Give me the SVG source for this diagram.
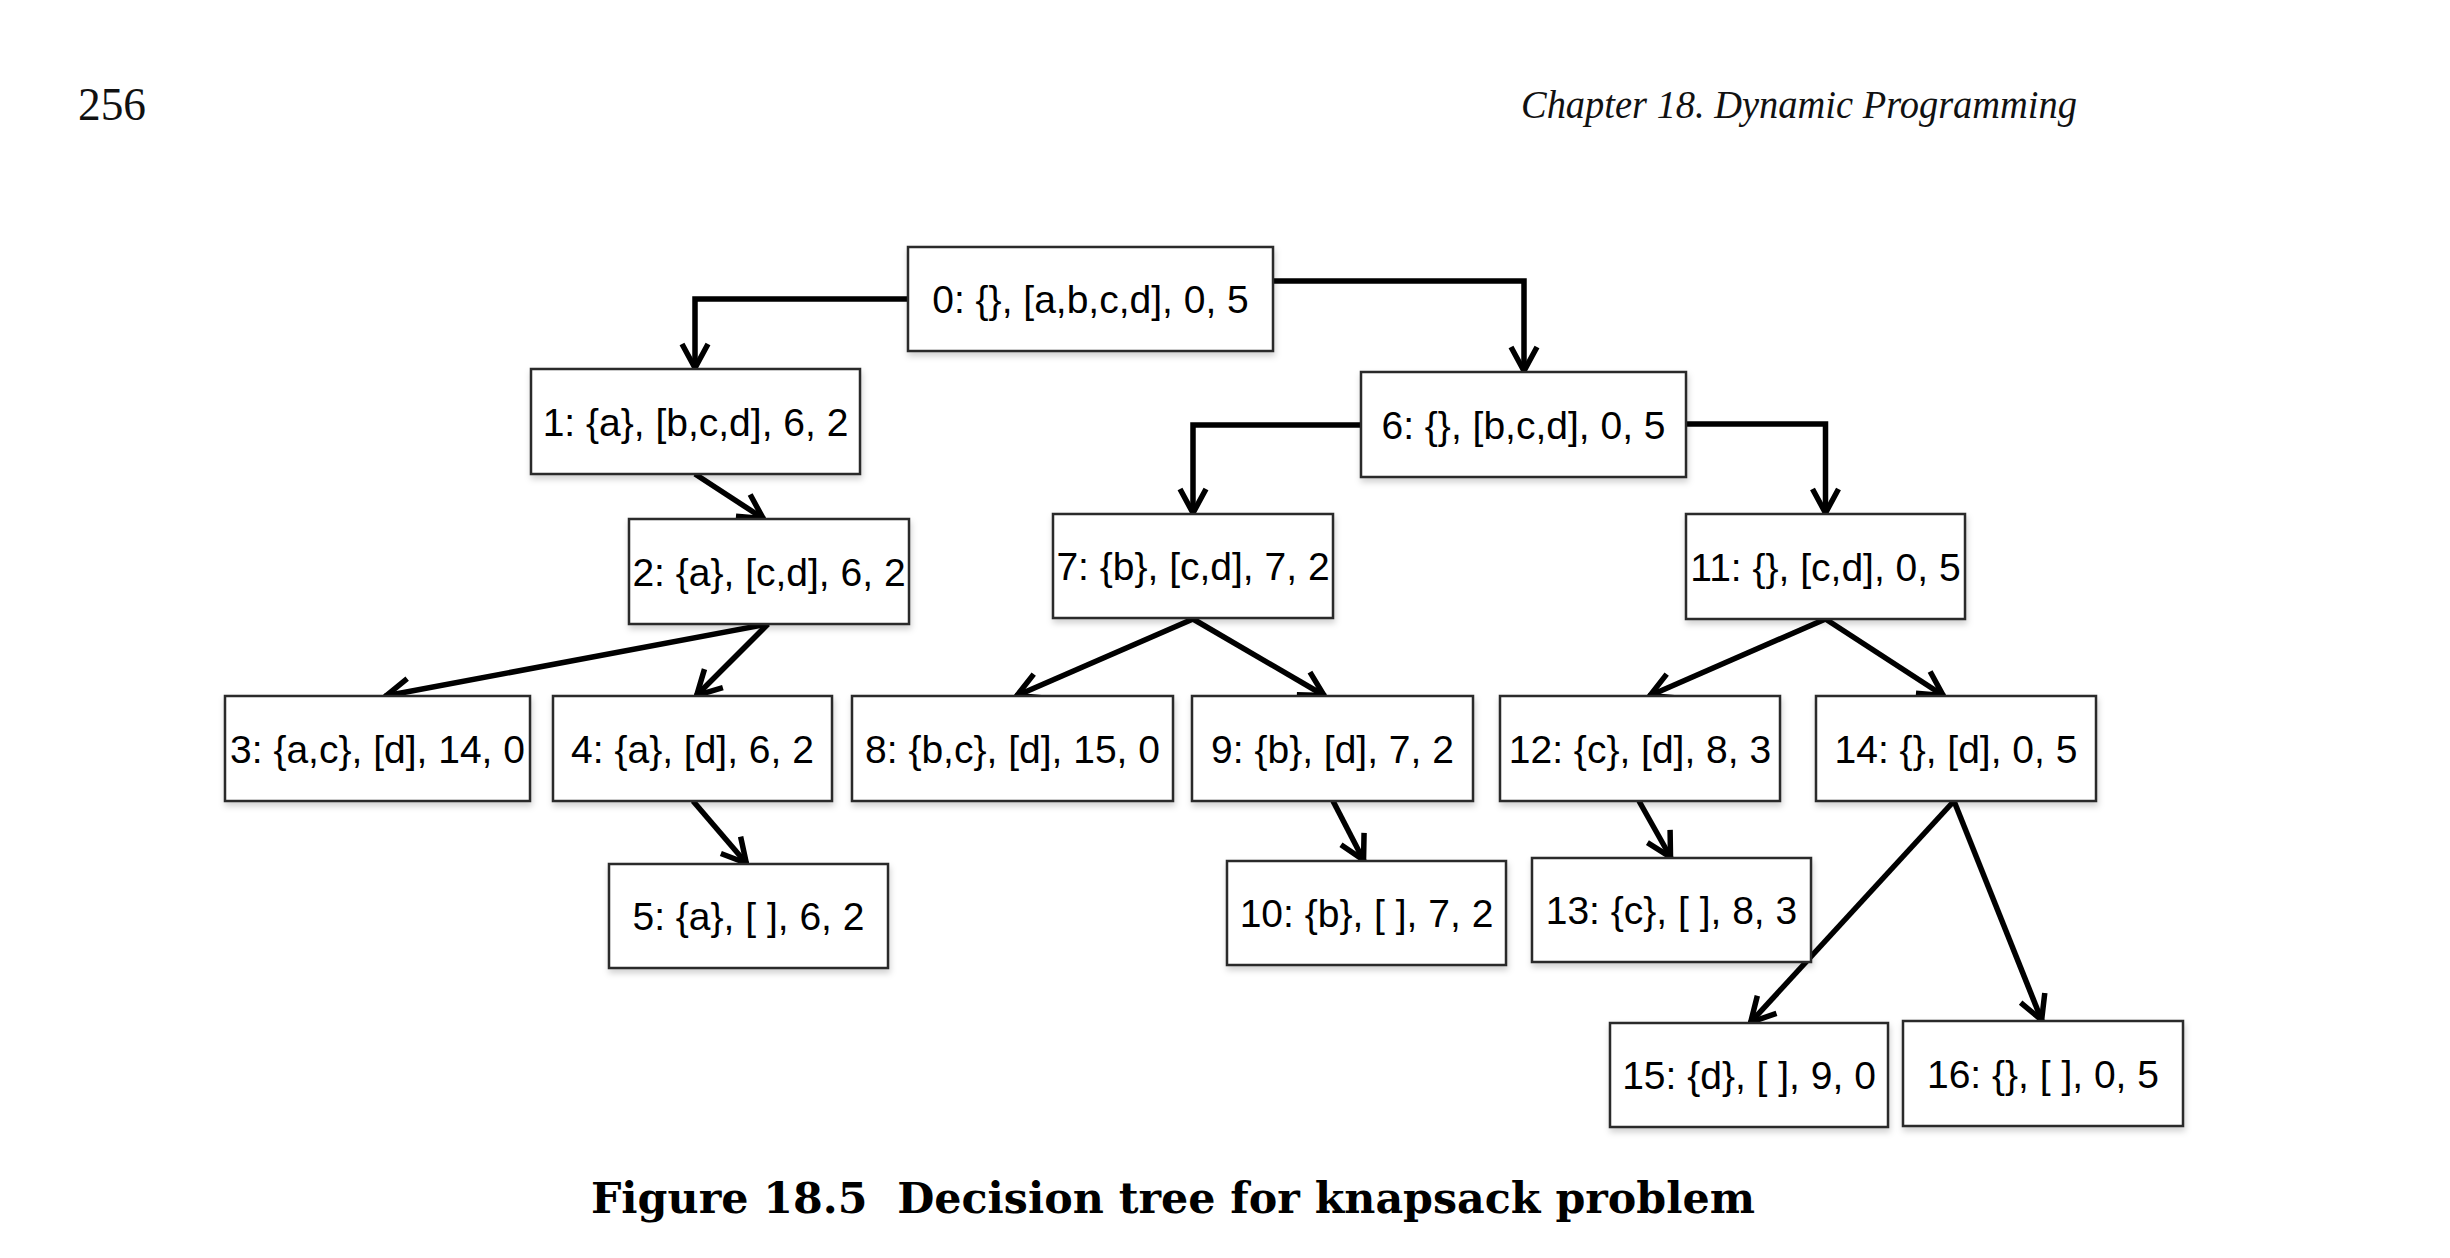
<svg xmlns="http://www.w3.org/2000/svg" width="2450" height="1258" viewBox="0 0 2450 1258">
<style>
.box{fill:#fff;stroke:#2a2a2a;stroke-width:2.5;filter:url(#sh)}
.lbl{font-family:"Liberation Sans",Arial,Helvetica,sans-serif;font-size:39px;fill:#000;text-anchor:middle}
.edge{fill:none;stroke:#000;stroke-width:5.5;stroke-linejoin:miter;marker-end:url(#arr)}
.hdr{font-family:"Liberation Serif","Times New Roman",serif;fill:#111}
.cap{font-family:"DejaVu Serif",serif;font-weight:bold;font-size:43px;fill:#000;white-space:pre}
</style>
<defs>
<filter id="sh" x="-10%" y="-10%" width="120%" height="130%">
<feDropShadow dx="1" dy="4" stdDeviation="3" flood-color="#000" flood-opacity="0.18"/>
</filter>
<marker id="arr" markerUnits="userSpaceOnUse" markerWidth="44" markerHeight="44" viewBox="-32 -22 44 44" refX="0" refY="0" orient="auto">
<path d="M-25,-13 L-1,0 L-25,13" fill="none" stroke="#000" stroke-width="5.5" stroke-linejoin="miter"/>
</marker>
</defs>
<rect width="2450" height="1258" fill="#fff"/>
<text class="hdr" x="78" y="120" font-size="47" textLength="68" lengthAdjust="spacingAndGlyphs">256</text>
<text class="hdr" x="1521" y="118" font-size="40" font-style="italic" textLength="556" lengthAdjust="spacingAndGlyphs">Chapter 18. Dynamic Programming</text>
<g id="connectors">
<polyline class="edge" points="908,299 695,299 695,369"/>
<polyline class="edge" points="1273,281 1524,281 1524,372"/>
<polyline class="edge" points="1361,425 1193,425 1193,514"/>
<polyline class="edge" points="1686,424 1825.5,424 1825.5,514"/>
<line class="edge" x1="695" y1="474" x2="764" y2="519"/>
<line class="edge" x1="768" y1="624" x2="385" y2="696"/>
<line class="edge" x1="768" y1="624" x2="696" y2="696"/>
<line class="edge" x1="1193" y1="619" x2="1016" y2="696"/>
<line class="edge" x1="1193" y1="619" x2="1325" y2="696"/>
<line class="edge" x1="1825.5" y1="619" x2="1649" y2="696"/>
<line class="edge" x1="1825.5" y1="619" x2="1944" y2="696"/>
<line class="edge" x1="693" y1="801" x2="747" y2="864"/>
<line class="edge" x1="1333" y1="801" x2="1364" y2="861"/>
<line class="edge" x1="1639" y1="801" x2="1671" y2="858"/>
<line class="edge" x1="1954" y1="801" x2="1750" y2="1023"/>
<line class="edge" x1="1954" y1="801" x2="2042" y2="1021"/>
</g>
<g id="n0"><rect class="box" x="908" y="247" width="365" height="104"/><text class="lbl" x="1090.5" y="313">0: {}, [a,b,c,d], 0, 5</text></g>
<g id="n1"><rect class="box" x="531" y="369" width="329" height="105"/><text class="lbl" x="695.5" y="436">1: {a}, [b,c,d], 6, 2</text></g>
<g id="n6"><rect class="box" x="1361" y="372" width="325" height="105"/><text class="lbl" x="1523.5" y="438.5">6: {}, [b,c,d], 0, 5</text></g>
<g id="n2"><rect class="box" x="629" y="519" width="280" height="105"/><text class="lbl" x="769" y="585.5">2: {a}, [c,d], 6, 2</text></g>
<g id="n7"><rect class="box" x="1053" y="514" width="280" height="104"/><text class="lbl" x="1193" y="580">7: {b}, [c,d], 7, 2</text></g>
<g id="n11"><rect class="box" x="1686" y="514" width="279" height="105"/><text class="lbl" x="1825.5" y="580.5">11: {}, [c,d], 0, 5</text></g>
<g id="n3"><rect class="box" x="225" y="696" width="305" height="105"/><text class="lbl" x="377.5" y="762.5">3: {a,c}, [d], 14, 0</text></g>
<g id="n4"><rect class="box" x="553" y="696" width="279" height="105"/><text class="lbl" x="692.5" y="762.5">4: {a}, [d], 6, 2</text></g>
<g id="n8"><rect class="box" x="852" y="696" width="321" height="105"/><text class="lbl" x="1012.5" y="762.5">8: {b,c}, [d], 15, 0</text></g>
<g id="n9"><rect class="box" x="1192" y="696" width="281" height="105"/><text class="lbl" x="1332.5" y="762.5">9: {b}, [d], 7, 2</text></g>
<g id="n12"><rect class="box" x="1500" y="696" width="280" height="105"/><text class="lbl" x="1640" y="762.5">12: {c}, [d], 8, 3</text></g>
<g id="n14"><rect class="box" x="1816" y="696" width="280" height="105"/><text class="lbl" x="1956" y="762.5">14: {}, [d], 0, 5</text></g>
<g id="n5"><rect class="box" x="609" y="864" width="279" height="104"/><text class="lbl" x="748.5" y="930">5: {a}, [ ], 6, 2</text></g>
<g id="n10"><rect class="box" x="1227" y="861" width="279" height="104"/><text class="lbl" x="1366.5" y="927">10: {b}, [ ], 7, 2</text></g>
<g id="n13"><rect class="box" x="1532" y="858" width="279" height="104"/><text class="lbl" x="1671.5" y="924">13: {c}, [ ], 8, 3</text></g>
<g id="n15"><rect class="box" x="1610" y="1023" width="278" height="104"/><text class="lbl" x="1749" y="1089">15: {d}, [ ], 9, 0</text></g>
<g id="n16"><rect class="box" x="1903" y="1021" width="280" height="105"/><text class="lbl" x="2043" y="1087.5">16: {}, [ ], 0, 5</text></g>
<text class="cap" x="591" y="1213" textLength="1164" lengthAdjust="spacingAndGlyphs">Figure 18.5  Decision tree for knapsack problem</text>
</svg>
